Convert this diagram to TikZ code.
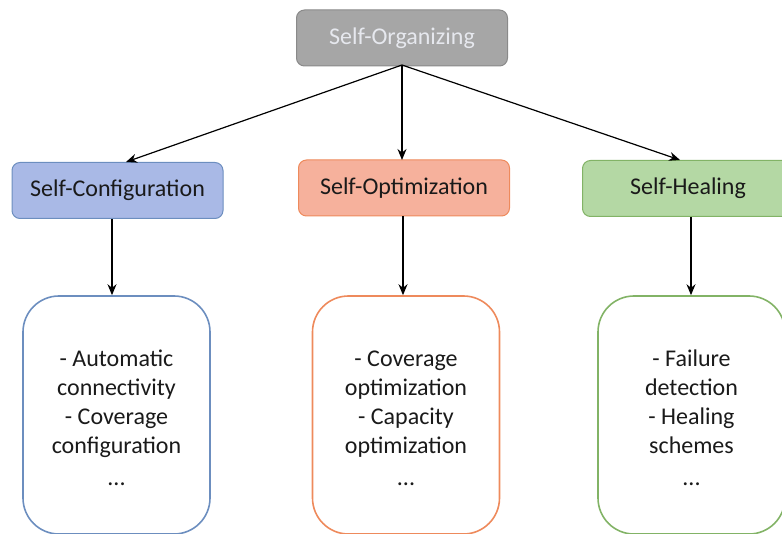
\documentclass[tikz,border=0pt]{standalone}
\usepackage{fontspec}
\setmainfont{Carlito}
\usetikzlibrary{arrows.meta}
\definecolor{grayfill}{HTML}{A6A6A6}
\definecolor{graydraw}{HTML}{8A8A8A}
\definecolor{grayText}{HTML}{E6E8EE}
\definecolor{bluefill}{HTML}{A9B9E6}
\definecolor{bluedraw}{HTML}{6C8EBF}
\definecolor{orangefill}{HTML}{F6B19C}
\definecolor{orangedraw}{HTML}{EE8A5C}
\definecolor{greenfill}{HTML}{B4D8A4}
\definecolor{greendraw}{HTML}{82B366}
\definecolor{txt}{HTML}{1A1A1A}
\tikzset{
  headbox/.style={rounded corners=8pt, line width=1pt, minimum width=211pt, minimum height=56pt, font=\fontsize{24}{28}\selectfont, text=txt, inner sep=0pt},
  listbox/.style={rounded corners=36pt, line width=1.6pt, minimum width=187pt, minimum height=238pt, inner sep=0pt},
  listtext/.style={font=\fontsize{24}{29}\selectfont, text=txt, align=center, inner sep=0pt},
  conn/.style={-{Stealth[length=11pt,width=9pt]}, line width=1.2pt, black}
}
\begin{document}
\begin{tikzpicture}[x=1pt,y=-1pt]
\useasboundingbox (0,0) rectangle (782,534);
\begin{scope}
\clip (0,0) rectangle (782,534);
\node[headbox, fill=grayfill, draw=graydraw, text=grayText] (top) at (402,38) {Self-Organizing};
\node[headbox, fill=bluefill, draw=bluedraw] (conf) at (117.5,190.5) {Self-Configuration};
\node[headbox, fill=orangefill, draw=orangedraw] (opt) at (404,188) {Self-Optimization};
\node[headbox, fill=greenfill, draw=greendraw] (heal) at (688,188.5) {Self-Healing};
\node[listbox, draw=bluedraw] (l1) at (116.5,415) {};
\node[listbox, draw=orangedraw] (l2) at (406,415) {};
\node[listbox, draw=greendraw] (l3) at (691.5,415) {};
\node[listtext] (t1) at (116.5,418) {- Automatic\\connectivity\\- Coverage\\configuration\\[3pt]...};
\node[listtext] (t2) at (406,418) {- Coverage\\optimization\\- Capacity\\optimization\\[3pt]...};
\node[listtext] (t3) at (691.5,418) {- Failure\\detection\\- Healing\\schemes\\[3pt]...};
\coordinate (src) at (402,65);
\draw[conn] (src) -- (conf.north -| 126,0);
\draw[conn] (src) -- (402,160);
\draw[conn] (src) -- (heal.north -| 680,0);
\draw[conn] (conf.south -| 112,0) -- (l1.north -| 112,0);
\draw[conn] (opt.south -| 403,0) -- (l2.north -| 403,0);
\draw[conn] (heal.south -| 691,0) -- (l3.north -| 691,0);
\end{scope}
\end{tikzpicture}
\end{document}
